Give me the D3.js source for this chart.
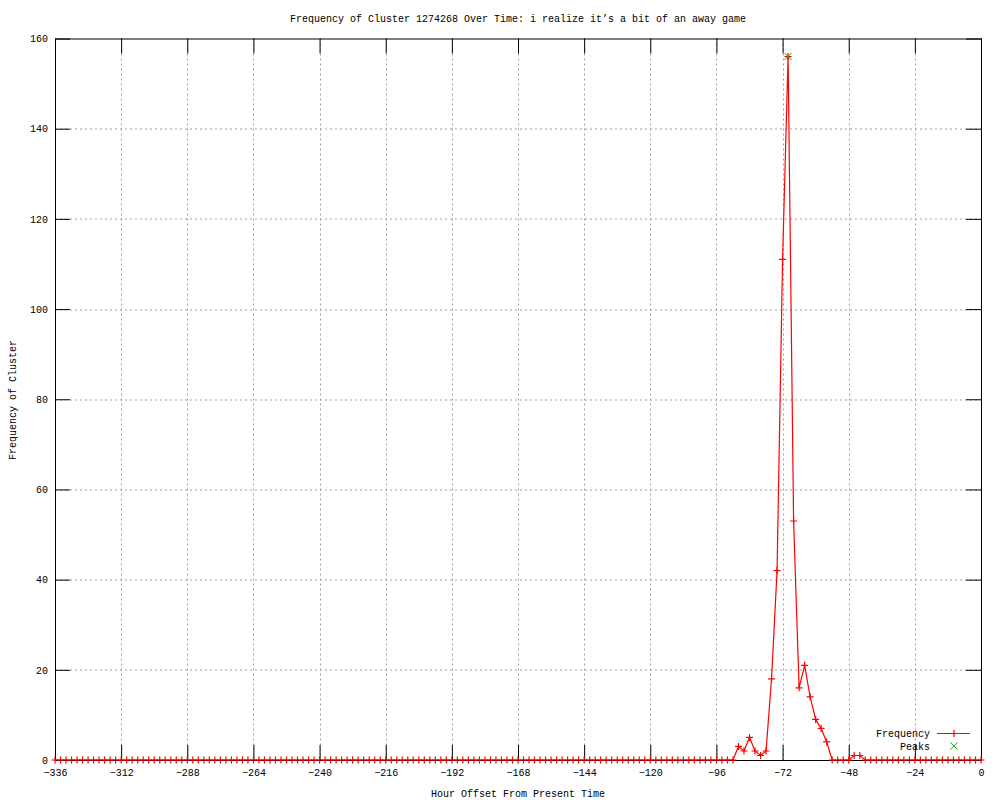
<!DOCTYPE html>
<html>
<head>
<meta charset="utf-8">
<script src="https://cdn.jsdelivr.net/npm/d3@7"></script>
<style>
  body { margin: 0; background: #fff; }
  svg text { font-family: "Liberation Mono", "DejaVu Sans Mono", monospace; font-size: 10px; fill: #000; }
</style>
</head>
<body>
<svg id="chart" width="1000" height="800"></svg>
<script>
const chartTitle = "Frequency of Cluster 1274268 Over Time: i realize it\u2019s a bit of an away game";

// hour offsets, one sample every 2 hours
const hours = [
  -336, -334, -332, -330, -328, -326, -324, -322, -320, -318, -316, -314, -312, -310, -308, -306, -304, -302,
  -300, -298, -296, -294, -292, -290, -288, -286, -284, -282, -280, -278, -276, -274, -272, -270, -268, -266,
  -264, -262, -260, -258, -256, -254, -252, -250, -248, -246, -244, -242, -240, -238, -236, -234, -232, -230,
  -228, -226, -224, -222, -220, -218, -216, -214, -212, -210, -208, -206, -204, -202, -200, -198, -196, -194,
  -192, -190, -188, -186, -184, -182, -180, -178, -176, -174, -172, -170, -168, -166, -164, -162, -160, -158,
  -156, -154, -152, -150, -148, -146, -144, -142, -140, -138, -136, -134, -132, -130, -128, -126, -124, -122,
  -120, -118, -116, -114, -112, -110, -108, -106, -104, -102, -100, -98, -96, -94, -92, -90, -88, -86,
  -84, -82, -80, -78, -76, -74, -72, -70, -68, -66, -64, -62, -60, -58, -56, -54, -52, -50,
  -48, -46, -44, -42, -40, -38, -36, -34, -32, -30, -28, -26, -24, -22, -20, -18, -16, -14,
  -12, -10, -8, -6, -4, -2, 0
];

const frequency = [
  0, 0, 0, 0, 0, 0, 0, 0, 0, 0, 0, 0, 0, 0, 0, 0, 0, 0,
  0, 0, 0, 0, 0, 0, 0, 0, 0, 0, 0, 0, 0, 0, 0, 0, 0, 0,
  0, 0, 0, 0, 0, 0, 0, 0, 0, 0, 0, 0, 0, 0, 0, 0, 0, 0,
  0, 0, 0, 0, 0, 0, 0, 0, 0, 0, 0, 0, 0, 0, 0, 0, 0, 0,
  0, 0, 0, 0, 0, 0, 0, 0, 0, 0, 0, 0, 0, 0, 0, 0, 0, 0,
  0, 0, 0, 0, 0, 0, 0, 0, 0, 0, 0, 0, 0, 0, 0, 0, 0, 0,
  0, 0, 0, 0, 0, 0, 0, 0, 0, 0, 0, 0, 0, 0, 0, 0, 3, 2,
  5, 2, 1, 2, 18, 42, 111, 156, 53, 16, 21, 14, 9, 7, 4, 0, 0, 0,
  0, 1, 1, 0, 0, 0, 0, 0, 0, 0, 0, 0, 0, 0, 0, 0, 0, 0,
  0, 0, 0, 0, 0, 0, 0
];

const peakHours = [-70];
const peakValues = [156];

const xTicks = [-336, -312, -288, -264, -240, -216, -192, -168, -144, -120, -96, -72, -48, -24, 0];
const yTicks = [0, 20, 40, 60, 80, 100, 120, 140, 160];

const svg = d3.select("#chart");
const margin = {top: 38.5, right: 19, bottom: 40, left: 55};
const width = 1000 - margin.left - margin.right;
const height = 800 - margin.top - margin.bottom;

const g = svg.append("g").attr("transform", `translate(${margin.left},${margin.top})`);

const x = d3.scaleLinear().domain([-336, 0]).range([0, width]);
const y = d3.scaleLinear().domain([0, 160]).range([height, 0]);

// Grid
g.append("g").selectAll("line")
    .data(xTicks.filter(d => d > -336 && d < 0))
    .enter().append("line")
    .attr("x1", d => Math.round(x(d)) + 0.5).attr("x2", d => Math.round(x(d)) + 0.5)
    .attr("y1", 0).attr("y2", height)
    .attr("stroke", "#a0a0a0")
    .attr("stroke-dasharray", "2,3");
g.append("g").selectAll("line")
    .data(yTicks.filter(d => d > 0 && d < 160))
    .enter().append("line")
    .attr("y1", d => Math.round(y(d)) + 0.5).attr("y2", d => Math.round(y(d)) + 0.5)
    .attr("x1", 0).attr("x2", width)
    .attr("stroke", "#a0a0a0")
    .attr("stroke-dasharray", "2,3");

// Axes (ticks inside, mirrored)
const tickLen = 15;
const xAxis = d3.axisBottom(x).tickValues(xTicks).tickSize(-tickLen).tickPadding(9).tickFormat(d => d === 0 ? "0" : "\u2212" + Math.abs(d));
const yAxis = d3.axisLeft(y).tickValues(yTicks).tickSize(-tickLen).tickPadding(7);

g.append("g").attr("transform", `translate(0,${height})`).call(xAxis);
g.append("g").call(yAxis);
g.append("g").call(d3.axisTop(x).tickValues(xTicks).tickSize(-tickLen).tickFormat(""));
g.append("g").attr("transform", `translate(${width},0)`).call(d3.axisRight(y).tickValues(yTicks).tickSize(-tickLen).tickFormat(""));

g.selectAll(".domain").remove();
g.selectAll(".tick line").attr("stroke", "#000");
g.selectAll(".tick text").style("font-family", null).attr("font-size", null).attr("fill", "#000");

// Data line
const line = d3.line().x((d, i) => x(hours[i])).y(d => y(d));
g.append("path")
    .datum(frequency)
    .attr("fill", "none")
    .attr("stroke", "#ff0000")
    .attr("stroke-width", 1.2)
    .attr("d", line);

// Border
g.append("rect")
    .attr("x", 0.5).attr("y", 0.5)
    .attr("width", width).attr("height", height)
    .attr("fill", "none")
    .attr("stroke", "#000");

// Point markers (+)
const ms = 3.5;
g.append("g").selectAll("path")
    .data(frequency)
    .enter().append("path")
    .attr("transform", (d, i) => `translate(${x(hours[i])},${y(d)})`)
    .attr("d", `M${-ms},0H${ms}M0,${-ms}V${ms}`)
    .attr("stroke", "#ff0000")
    .attr("stroke-width", 1.2);

// Peaks (x)
const px = 3.5;
g.append("g").selectAll("path")
    .data(peakValues)
    .enter().append("path")
    .attr("transform", (d, i) => `translate(${x(peakHours[i])},${y(d)})`)
    .attr("d", `M${-px},${-px}L${px},${px}M${-px},${px}L${px},${-px}`)
    .attr("stroke", "#00c000")
    .attr("stroke-width", 1);

// Legend
const lg = svg.append("g");
lg.append("text").attr("x", 930).attr("y", 733).attr("dy", "0.35em").attr("text-anchor", "end").text("Frequency");
lg.append("line").attr("x1", 937).attr("x2", 970).attr("y1", 733.5).attr("y2", 733.5).attr("stroke", "#ff0000").attr("stroke-width", 1.2);
lg.append("path").attr("transform", "translate(954,733.5)").attr("d", `M0,${-ms}V${ms}`).attr("stroke", "#ff0000").attr("stroke-width", 1.2);
lg.append("text").attr("x", 930).attr("y", 746).attr("dy", "0.35em").attr("text-anchor", "end").text("Peaks");
lg.append("path").attr("transform", "translate(954,746)").attr("d", `M${-px},${-px}L${px},${px}M${-px},${px}L${px},${-px}`).attr("stroke", "#00c000").attr("stroke-width", 1);

// Title and axis labels
svg.append("text").attr("x", 518).attr("y", 22).attr("text-anchor", "middle").text(chartTitle);
svg.append("text").attr("x", 518).attr("y", 797).attr("text-anchor", "middle").text("Hour Offset From Present Time");
svg.append("text")
    .attr("transform", "translate(16,400) rotate(-90)")
    .attr("text-anchor", "middle")
    .text("Frequency of Cluster");
</script>
</body>
</html>
